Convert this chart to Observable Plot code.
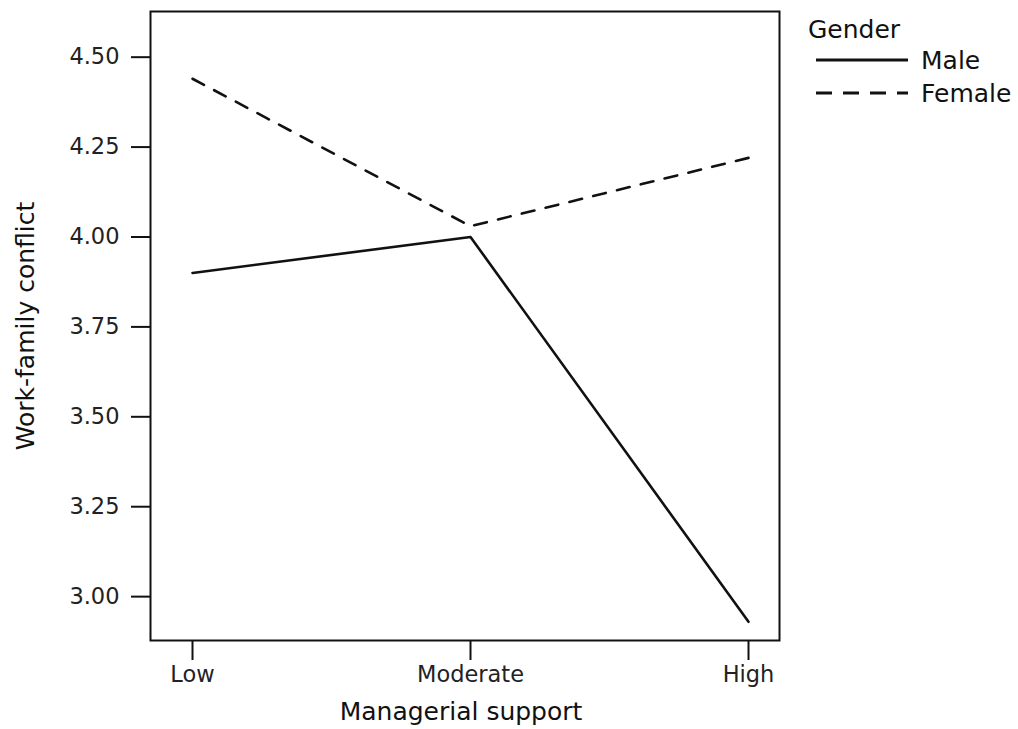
<!DOCTYPE html>
<html>
<head>
<meta charset="utf-8">
<script src="https://cdn.jsdelivr.net/npm/d3@7"></script>
<script src="https://cdn.jsdelivr.net/npm/@observablehq/plot@0.6"></script>
<style>
  html, body { margin: 0; padding: 0; background: #fff; }
  #wrap { position: relative; width: 1018px; height: 729px; }
  #legend { position: absolute; left: 0; top: 0; pointer-events: none; }
</style>
</head>
<body>
<div id="wrap"></div>
<script>
// Data
const supportLevels = ["Low", "Moderate", "High"];
const maleValues = [3.90, 4.00, 2.93];
const femaleValues = [4.44, 4.03, 4.22];
const yTicks = [3.00, 3.25, 3.50, 3.75, 4.00, 4.25, 4.50];
const genders = ["Male", "Female"];
const xTitle = "Managerial support";
const yTitle = "Work-family conflict";
const legendTitle = "Gender";

const rows = [];
supportLevels.forEach((s, i) => {
  rows.push({support: s, gender: "Male", value: maleValues[i]});
  rows.push({support: s, gender: "Female", value: femaleValues[i]});
});

const font = "'DejaVu Sans', sans-serif";
const dashPattern = "13,11.5";

const chart = Plot.plot({
  width: 1018,
  height: 729,
  marginTop: 11,
  marginLeft: 150,
  marginRight: 239,
  marginBottom: 89,
  style: {fontFamily: font, fontSize: "22.5px", color: "#222", background: "#fff"},
  x: {type: "point", domain: supportLevels, range: [191, 748], padding: 0, label: null},
  y: {domain: [2.878, 4.627], label: null},
  marks: [
    Plot.axisY({ticks: yTicks, tickFormat: d3.format(".2f"), tickSize: 19, tickPadding: 12, strokeWidth: 2, stroke: "#111", label: null}),
    Plot.axisX({tickSize: 20, tickPadding: 6, strokeWidth: 2, stroke: "#111", label: null}),
    Plot.frame({stroke: "#111", strokeWidth: 2}),
    Plot.line(rows.filter(d => d.gender === "Male"), {x: "support", y: "value", stroke: "#111", strokeWidth: 2.6}),
    Plot.line(rows.filter(d => d.gender === "Female"), {x: "support", y: "value", stroke: "#111", strokeWidth: 2.6, strokeDasharray: dashPattern}),
    Plot.text([yTitle], {frameAnchor: "left", dx: -125, rotate: -90, textAnchor: "middle", lineAnchor: "middle", fontSize: 25, fill: "#111"}),
    Plot.text([xTitle], {frameAnchor: "bottom", dy: 71, dx: -4, textAnchor: "middle", lineAnchor: "middle", fontSize: 25, fill: "#111"})
  ]
});

const wrap = document.getElementById("wrap");
wrap.appendChild(chart);

// Legend (overlay in the right margin)
const leg = d3.select(wrap).append("svg")
  .attr("id", "legend")
  .attr("width", 1018).attr("height", 729)
  .style("font-family", font);
leg.append("text").attr("x", 808).attr("y", 38).attr("font-size", 25).attr("fill", "#111").text(legendTitle);
const dashes = [null, "16,11"];
genders.forEach((g, i) => {
  const y = 60 + i * 33;
  leg.append("line").attr("x1", 816).attr("x2", 908).attr("y1", y).attr("y2", y)
    .attr("stroke", "#111").attr("stroke-width", 3)
    .attr("stroke-dasharray", dashes[i]);
  leg.append("text").attr("x", 921).attr("y", y + 9).attr("font-size", 25).attr("fill", "#111").text(g);
});
</script>
</body>
</html>
